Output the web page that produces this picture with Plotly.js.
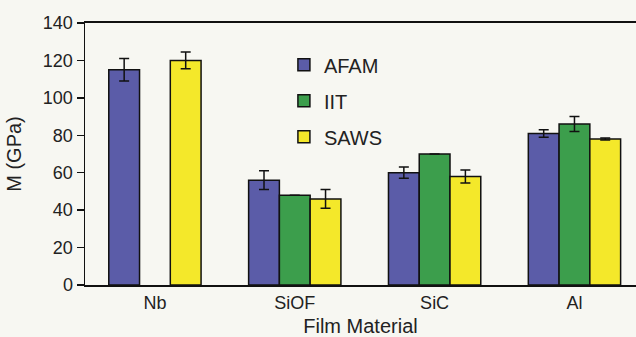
<!DOCTYPE html>
<html>
<head>
<meta charset="utf-8">
<script src="https://cdn.plot.ly/plotly-3.0.1.min.js"></script>
<style>
  html, body { margin: 0; padding: 0; background: #f7f7f2; }
  #chart { width: 636px; height: 337px; }
</style>
</head>
<body>
<div id="chart"></div>
<script>
// Film materials on the x axis
const materials = ["Nb", "SiOF", "SiC", "Al"];

// Modulus M (GPa) per method, with error bar half-widths
const afamValues = [115, 56, 60, 81];
const afamErrors = [6, 5, 3, 2];

const iitValues = [null, 48, 70, 86];
const iitErrors = [0, 0, 0, 4];

const sawsValues = [120, 46, 58, 78];
const sawsErrors = [4.5, 5, 3.5, 0.5];

const seriesNames = ["AFAM", "IIT", "SAWS"];
const seriesColors = ["#5b5ca8", "#3c9e4c", "#f4e82a"];

function barTrace(i, values, errors) {
  return {
    type: "bar",
    name: seriesNames[i],
    legendgroup: seriesNames[i],
    x: materials,
    y: values,
    marker: { color: seriesColors[i], line: { color: "#111", width: 1.5 } },
    error_y: {
      type: "data",
      array: errors,
      visible: true,
      color: "#111",
      thickness: 1.5,
      width: 5
    }
  };
}

const data = [
  barTrace(0, afamValues, afamErrors),
  barTrace(1, iitValues, iitErrors),
  barTrace(2, sawsValues, sawsErrors)
];

const layout = {
  width: 636,
  height: 337,
  margin: { l: 85, r: 0, t: 23, b: 52 },
  paper_bgcolor: "#f7f7f2",
  plot_bgcolor: "#f7f7f2",
  font: { family: "Liberation Sans, Arial, sans-serif", size: 18, color: "#222" },
  barmode: "group",
  bargap: 0.34,
  bargroupgap: 0,
  showlegend: true,
  legend: {
    x: 0.361,
    y: 0.915,
    xanchor: "left",
    yanchor: "top",
    bgcolor: "rgba(0,0,0,0)",
    font: { size: 20, color: "#222" },
    tracegroupgap: 7,
    traceorder: "grouped"
  },
  xaxis: {
    range: [-0.5, 3.44],
    showline: true,
    linecolor: "#111",
    linewidth: 2,
    mirror: true,
    ticks: "",
    showgrid: false,
    zeroline: false,
    title: { text: "Film Material", font: { size: 20, color: "#222" }, standoff: 7 }
  },
  yaxis: {
    range: [0, 140],
    dtick: 20,
    showline: true,
    linecolor: "#111",
    linewidth: 1.5,
    ticks: "outside",
    ticklen: 7,
    tickwidth: 1.5,
    tickcolor: "#111",
    showgrid: false,
    zeroline: false,
    title: { text: "M (GPa)", font: { size: 20, color: "#222" }, standoff: 16 }
  }
};

Plotly.newPlot("chart", data, layout, { staticPlot: true, displayModeBar: false });
</script>
</body>
</html>
